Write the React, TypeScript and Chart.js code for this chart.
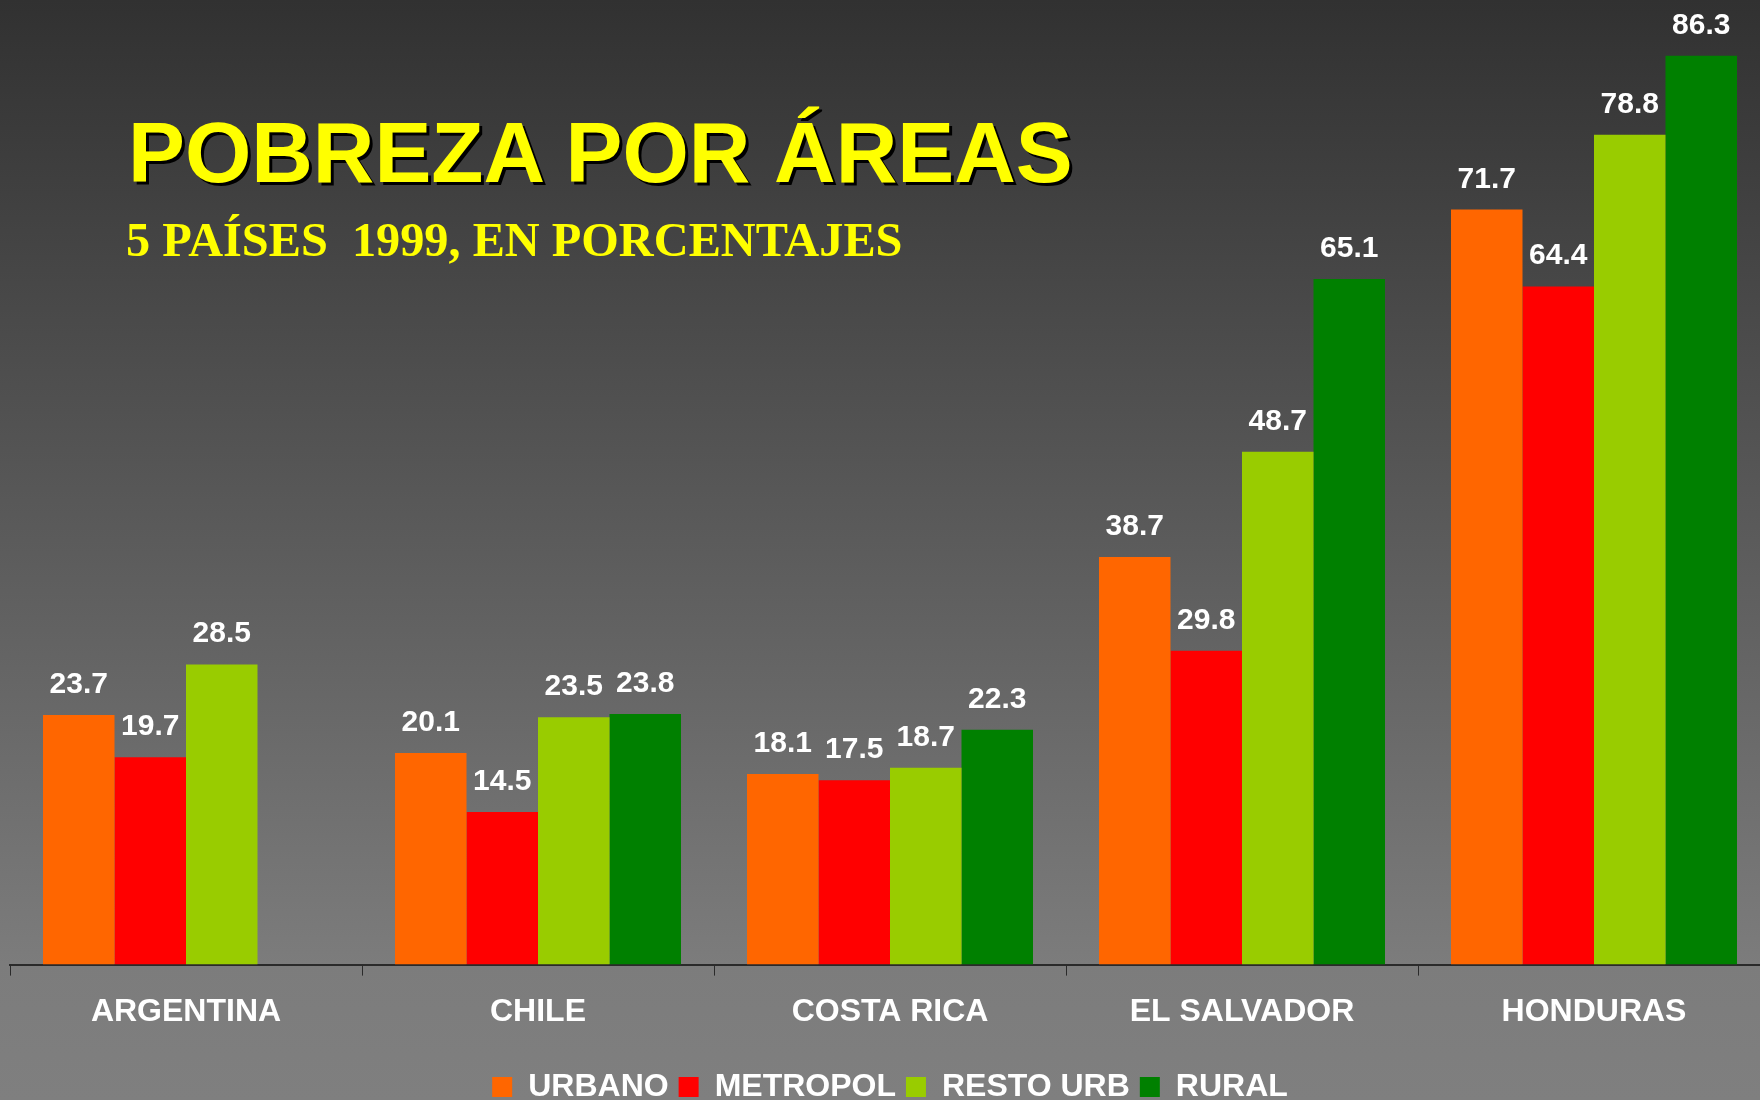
import React, { useEffect, useRef } from "react";
import { Chart, registerables } from "chart.js";

Chart.register(...registerables);

const countries = ["ARGENTINA", "CHILE", "COSTA RICA", "EL SALVADOR", "HONDURAS"];
const urbano = [23.7, 20.1, 18.1, 38.7, 71.7];
const metropol = [19.7, 14.5, 17.5, 29.8, 64.4];
const restoUrb = [28.5, 23.5, 18.7, 48.7, 78.8];
const rural: (number | null)[] = [null, 23.8, 22.3, 65.1, 86.3];

const seriesNames = ["URBANO", "METROPOL", "RESTO URB", "RURAL"];
const seriesColors = ["#FF6600", "#FF0000", "#99CC00", "#008000"];

const TITLE = "POBREZA POR ÁREAS";
const SUBTITLE = "5 PAÍSES  1999, EN PORCENTAJES";

const valueLabels = {
  id: "valueLabels",
  afterDatasetsDraw(chart: any) {
    const ctx = chart.ctx;
    ctx.save();
    ctx.fillStyle = "#FFFFFF";
    ctx.font = "bold 30px 'Liberation Sans', Arial, sans-serif";
    ctx.textAlign = "center";
    ctx.textBaseline = "alphabetic";
    chart.data.datasets.forEach((ds: any, di: number) => {
      const meta = chart.getDatasetMeta(di);
      meta.data.forEach((bar: any, i: number) => {
        const v = ds.data[i];
        if (v === null || v === undefined) return;
        ctx.fillText(Number(v).toFixed(1), bar.x, bar.y - 22);
      });
    });
    ctx.restore();
  },
};

export default function App() {
  const canvasRef = useRef<HTMLCanvasElement | null>(null);

  useEffect(() => {
    document.documentElement.style.overflow = "hidden";
    document.body.style.margin = "0";
    document.body.style.overflow = "hidden";
    const canvas = canvasRef.current;
    if (!canvas) return;
    const datasets = [urbano, metropol, restoUrb, rural].map((d, i) => ({
      label: seriesNames[i],
      data: d,
      backgroundColor: seriesColors[i],
      borderWidth: 0,
      categoryPercentage: 0.8125,
      barPercentage: 1.0,
    }));
    const chart = new Chart(canvas, {
      type: "bar",
      data: { labels: countries, datasets },
      options: {
        responsive: false,
        animation: false,
        layout: { padding: { left: 10, right: 10, top: 0, bottom: -13 } },
        plugins: {
          legend: {
            display: true,
            position: "bottom",
            labels: {
              color: "#FFFFFF",
              font: { family: "'Liberation Sans', Arial, sans-serif", size: 32, weight: "bold" },
              boxWidth: 20,
              boxHeight: 20,
              padding: 10,
            },
          },
          tooltip: { enabled: false },
          title: { display: false },
        },
        scales: {
          x: {
            afterFit(scale: any) {
              scale.height += 13;
            },
            grid: {
              display: true,
              drawOnChartArea: false,
              drawTicks: true,
              tickLength: 11,
              offset: true,
              color: "#2a2a2a",
              lineWidth: 1,
            },
            border: { display: true, color: "#2a2a2a", width: 2 },
            ticks: {
              color: "#FFFFFF",
              font: { family: "'Liberation Sans', Arial, sans-serif", size: 32, weight: "bold" },
              padding: 17,
              maxRotation: 0,
              autoSkip: false,
            },
          },
          y: {
            display: false,
            min: 0,
            max: 91.6,
          },
        },
      },
      plugins: [valueLabels],
    });
    return () => chart.destroy();
  }, []);

  return (
    <div
      style={{
        position: "relative",
        width: 1780,
        height: 1100,
        overflow: "hidden",
        background: "linear-gradient(to bottom, #313131 0px, #7c7c7c 964px, #7f7f7f 1100px)",
      }}
    >
      <canvas ref={canvasRef} width={1780} height={1100} style={{ position: "absolute", left: 0, top: 0 }} />
      <div
        style={{
          position: "absolute",
          left: 128,
          top: 110,
          fontFamily: "'Liberation Sans', Arial, sans-serif",
          fontWeight: "bold",
          fontSize: 85.3,
          lineHeight: "85px",
          color: "#FFFF00",
          whiteSpace: "pre",
          textShadow: "3px 3px 0 #000000",
        }}
      >
        {TITLE}
      </div>
      <div
        style={{
          position: "absolute",
          left: 126,
          top: 216,
          fontFamily: "'Liberation Serif', 'Times New Roman', serif",
          fontWeight: "bold",
          fontSize: 48.3,
          lineHeight: "48px",
          color: "#FFFF00",
          whiteSpace: "pre",
        }}
      >
        {SUBTITLE}
      </div>
    </div>
  );
}
